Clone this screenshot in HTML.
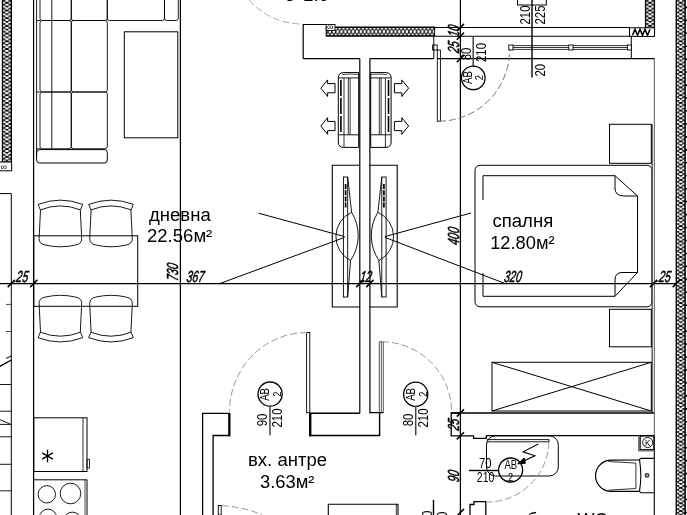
<!DOCTYPE html>
<html><head><meta charset="utf-8"><title>plan</title>
<style>
html,body{margin:0;padding:0;background:#fff;overflow:hidden}
svg{display:block;will-change:transform;transform:translateZ(0)}
text{font-family:"Liberation Sans",sans-serif}
</style></head><body>
<svg width="687" height="515" viewBox="0 0 687 515">
<defs>
<pattern id="insv" width="9.2" height="7.7" patternUnits="userSpaceOnUse">
<rect width="9.2" height="7.7" fill="#fff"/>
<path d="M1,-3.85 L8.2,0 L1,3.85 L8.2,7.7 L1,11.55 M8.2,-3.85 L1,0 L8.2,3.85 L1,7.7 L8.2,11.55" fill="none" stroke="#000" stroke-width="0.95"/>
<rect x="0" y="0" width="0.9" height="7.7" fill="#000"/><rect x="8.3" y="0" width="0.9" height="7.7" fill="#000"/>
</pattern>
<pattern id="ins" width="7.7" height="9.2" patternUnits="userSpaceOnUse">
<rect width="7.7" height="9.2" fill="#fff"/>
<path d="M-3.85,1 L0,8.2 L3.85,1 L7.7,8.2 L11.55,1 M-3.85,8.2 L0,1 L3.85,8.2 L7.7,1 L11.55,8.2" fill="none" stroke="#000" stroke-width="0.95"/>
<rect x="0" y="0" width="7.7" height="0.9" fill="#000"/><rect x="0" y="8.3" width="7.7" height="0.9" fill="#000"/>
</pattern>
</defs>
<rect width="687" height="515" fill="#fff"/>

<g id="insulation">
<g transform="translate(2.3,-3)"><rect x="0" y="0" width="9.2" height="165" fill="url(#insv)" stroke="#000" stroke-width="1"/></g>
<rect x="-1" y="162" width="12.6" height="8.8" rx="0" fill="#fff" stroke="#000" stroke-width="1" />
<text transform="translate(0.5,169.8)" font-size="9" text-anchor="start" fill="#000" font-weight="normal">&#8734;</text>
<g transform="translate(676.1,-3)"><rect x="0" y="0" width="9.2" height="523" fill="url(#insv)" stroke="#000" stroke-width="1"/></g>
<line x1="685.2" y1="7.4" x2="687" y2="7.4" stroke="#000" stroke-width="1.6" />
<line x1="685.2" y1="20.35" x2="687" y2="20.35" stroke="#000" stroke-width="1.6" />
<line x1="685.2" y1="33.3" x2="687" y2="33.3" stroke="#000" stroke-width="1.6" />
<line x1="685.2" y1="46.24999999999999" x2="687" y2="46.24999999999999" stroke="#000" stroke-width="1.6" />
<line x1="685.2" y1="59.199999999999996" x2="687" y2="59.199999999999996" stroke="#000" stroke-width="1.6" />
<line x1="685.2" y1="72.15" x2="687" y2="72.15" stroke="#000" stroke-width="1.6" />
<line x1="685.2" y1="85.1" x2="687" y2="85.1" stroke="#000" stroke-width="1.6" />
<line x1="685.2" y1="98.05" x2="687" y2="98.05" stroke="#000" stroke-width="1.6" />
<line x1="685.2" y1="111.0" x2="687" y2="111.0" stroke="#000" stroke-width="1.6" />
<line x1="685.2" y1="123.95" x2="687" y2="123.95" stroke="#000" stroke-width="1.6" />
<line x1="685.2" y1="136.9" x2="687" y2="136.9" stroke="#000" stroke-width="1.6" />
<line x1="685.2" y1="149.85" x2="687" y2="149.85" stroke="#000" stroke-width="1.6" />
<line x1="685.2" y1="162.79999999999998" x2="687" y2="162.79999999999998" stroke="#000" stroke-width="1.6" />
<line x1="685.2" y1="175.75" x2="687" y2="175.75" stroke="#000" stroke-width="1.6" />
<line x1="685.2" y1="188.7" x2="687" y2="188.7" stroke="#000" stroke-width="1.6" />
<line x1="685.2" y1="201.65" x2="687" y2="201.65" stroke="#000" stroke-width="1.6" />
<line x1="685.2" y1="214.6" x2="687" y2="214.6" stroke="#000" stroke-width="1.6" />
<line x1="685.2" y1="227.54999999999998" x2="687" y2="227.54999999999998" stroke="#000" stroke-width="1.6" />
<line x1="685.2" y1="240.5" x2="687" y2="240.5" stroke="#000" stroke-width="1.6" />
<line x1="685.2" y1="253.45" x2="687" y2="253.45" stroke="#000" stroke-width="1.6" />
<line x1="685.2" y1="266.4" x2="687" y2="266.4" stroke="#000" stroke-width="1.6" />
<line x1="685.2" y1="279.34999999999997" x2="687" y2="279.34999999999997" stroke="#000" stroke-width="1.6" />
<line x1="685.2" y1="292.29999999999995" x2="687" y2="292.29999999999995" stroke="#000" stroke-width="1.6" />
<line x1="685.2" y1="305.24999999999994" x2="687" y2="305.24999999999994" stroke="#000" stroke-width="1.6" />
<line x1="685.2" y1="318.19999999999993" x2="687" y2="318.19999999999993" stroke="#000" stroke-width="1.6" />
<line x1="685.2" y1="331.15" x2="687" y2="331.15" stroke="#000" stroke-width="1.6" />
<line x1="685.2" y1="344.09999999999997" x2="687" y2="344.09999999999997" stroke="#000" stroke-width="1.6" />
<line x1="685.2" y1="357.04999999999995" x2="687" y2="357.04999999999995" stroke="#000" stroke-width="1.6" />
<line x1="685.2" y1="369.99999999999994" x2="687" y2="369.99999999999994" stroke="#000" stroke-width="1.6" />
<line x1="685.2" y1="382.94999999999993" x2="687" y2="382.94999999999993" stroke="#000" stroke-width="1.6" />
<line x1="685.2" y1="395.9" x2="687" y2="395.9" stroke="#000" stroke-width="1.6" />
<line x1="685.2" y1="408.84999999999997" x2="687" y2="408.84999999999997" stroke="#000" stroke-width="1.6" />
<line x1="685.2" y1="421.79999999999995" x2="687" y2="421.79999999999995" stroke="#000" stroke-width="1.6" />
<line x1="685.2" y1="434.74999999999994" x2="687" y2="434.74999999999994" stroke="#000" stroke-width="1.6" />
<line x1="685.2" y1="447.69999999999993" x2="687" y2="447.69999999999993" stroke="#000" stroke-width="1.6" />
<line x1="685.2" y1="460.65" x2="687" y2="460.65" stroke="#000" stroke-width="1.6" />
<line x1="685.2" y1="473.59999999999997" x2="687" y2="473.59999999999997" stroke="#000" stroke-width="1.6" />
<line x1="685.2" y1="486.54999999999995" x2="687" y2="486.54999999999995" stroke="#000" stroke-width="1.6" />
<line x1="685.2" y1="499.49999999999994" x2="687" y2="499.49999999999994" stroke="#000" stroke-width="1.6" />
<line x1="685.2" y1="512.4499999999999" x2="687" y2="512.4499999999999" stroke="#000" stroke-width="1.6" />
<g transform="translate(326.2,27)"><rect x="0" y="0" width="108.40000000000003" height="9.2" fill="url(#ins)" stroke="#000" stroke-width="1"/></g>
<rect x="326.2" y="24.5" width="8.8" height="6.0" rx="0" fill="#fff" stroke="#000" stroke-width="0.9" />
<text transform="translate(327,30.3)" font-size="9" text-anchor="start" fill="#000" font-weight="normal">&#8734;</text>
<g transform="translate(645.4,-3)"><rect x="0" y="0" width="9.2" height="37" fill="url(#insv)" stroke="#000" stroke-width="1"/></g>
<g transform="translate(629.5,27.8)"><rect width="25" height="8.6" fill="#fff" stroke="#000"/><path d="M3,7.5 L5.5,1.5 L8,7.5 L10.5,1.5 L13,7.5 L15.5,1.5 L18,7.5 L20.5,1.5" fill="none" stroke="#000" stroke-width="1.5"/></g>
</g>
<g id="walls">
<line x1="33.6" y1="0" x2="33.6" y2="515" stroke="#000" stroke-width="1.25" />
<line x1="180.4" y1="0" x2="180.4" y2="515" stroke="#000" stroke-width="1.25" />
<line x1="460.4" y1="0" x2="460.4" y2="515" stroke="#000" stroke-width="1.25" />
<line x1="0" y1="283.5" x2="676.1" y2="283.5" stroke="#000" stroke-width="1.25" />
<path d="M303.2,58.7 V24.5 H326.2" fill="none" stroke="#000" stroke-width="1.2" />
<path d="M303.2,58.7 H359.8 M369.8,58.7 H433.8" fill="none" stroke="#000" stroke-width="1.2" />
<line x1="433.8" y1="36.2" x2="433.8" y2="58.7" stroke="#000" stroke-width="1" />
<line x1="359.8" y1="58.7" x2="359.8" y2="413.2" stroke="#000" stroke-width="1.2" />
<line x1="369.9" y1="58.7" x2="369.9" y2="413.2" stroke="#000" stroke-width="1.2" />
<line x1="435" y1="27.5" x2="629.5" y2="27.5" stroke="#000" stroke-width="1.1" />
<line x1="435" y1="36.2" x2="631.3" y2="36.2" stroke="#000" stroke-width="1.1" />
<line x1="437" y1="58.7" x2="654.5" y2="58.7" stroke="#000" stroke-width="1.2" />
<line x1="654.3" y1="58.7" x2="654.3" y2="436" stroke="#444" stroke-width="0.9" />
<line x1="654.3" y1="436" x2="654.3" y2="515" stroke="#000" stroke-width="1.1" />
<line x1="631.3" y1="36.2" x2="631.3" y2="58.7" stroke="#000" stroke-width="1" />
</g>
<g id="sofa">
<line x1="36.6" y1="0" x2="36.6" y2="156" stroke="#000" stroke-width="0.9" />
<rect x="40" y="-52" width="31.3" height="72.5" rx="2.2" fill="none" stroke="#000" stroke-width="0.9" />
<rect x="71.3" y="-52" width="36.0" height="72.5" rx="2.2" fill="none" stroke="#000" stroke-width="0.9" />
<line x1="36.6" y1="20.5" x2="40" y2="20.5" stroke="#000" stroke-width="0.9" />
<rect x="40" y="20.5" width="31.3" height="71.5" rx="2.2" fill="none" stroke="#000" stroke-width="0.9" />
<rect x="71.3" y="20.5" width="36.0" height="71.5" rx="2.2" fill="none" stroke="#000" stroke-width="0.9" />
<line x1="36.6" y1="92" x2="40" y2="92" stroke="#000" stroke-width="0.9" />
<rect x="40" y="92" width="31.3" height="56.8" rx="2.2" fill="none" stroke="#000" stroke-width="0.9" />
<rect x="71.3" y="92" width="36.0" height="56.8" rx="2.2" fill="none" stroke="#000" stroke-width="0.9" />
<line x1="36.6" y1="148.8" x2="40" y2="148.8" stroke="#000" stroke-width="0.9" />
<line x1="51.8" y1="0" x2="51.8" y2="148.8" stroke="#000" stroke-width="0.9" />
<rect x="107.3" y="-30" width="57.2" height="50.5" rx="2.2" fill="none" stroke="#000" stroke-width="0.9" />
<rect x="164.5" y="-30" width="13.8" height="50.5" rx="2.2" fill="none" stroke="#000" stroke-width="0.9" />
<rect x="36.6" y="149.6" width="70.7" height="13.4" rx="3" fill="none" stroke="#000" stroke-width="1" />
</g>
<rect x="124.3" y="31.8" width="53.5" height="106.0" rx="0" fill="none" stroke="#000" stroke-width="1" />
<g id="dining">
<path d="M38.1,204.4 Q60.400000000000006,195.9 82.7,204.4 L80.5,209.9 Q60.400000000000006,201.9 40.300000000000004,209.9 Z M40.5,209.9 L39.1,238.4 Q38.9,243.9 45.1,245.0 Q60.400000000000006,248.60000000000002 75.7,245.0 Q81.9,243.9 81.7,238.4 L80.3,209.9" fill="none" stroke="#000" stroke-width="0.9" />
<path d="M88.7,204.4 Q111.0,195.9 133.3,204.4 L131.10000000000002,209.9 Q111.0,201.9 90.9,209.9 Z M91.10000000000001,209.9 L89.7,238.4 Q89.5,243.9 95.7,245.0 Q111.0,248.60000000000002 126.30000000000001,245.0 Q132.5,243.9 132.3,238.4 L130.9,209.9" fill="none" stroke="#000" stroke-width="0.9" />
<g transform="translate(0,637.0) scale(1,-1)">
<path d="M38.1,299.3 Q60.400000000000006,290.8 82.7,299.3 L80.5,304.8 Q60.400000000000006,296.8 40.300000000000004,304.8 Z M40.5,304.8 L39.1,333.3 Q38.9,338.8 45.1,339.90000000000003 Q60.400000000000006,343.5 75.7,339.90000000000003 Q81.9,338.8 81.7,333.3 L80.3,304.8" fill="none" stroke="#000" stroke-width="0.9" />
</g>
<g transform="translate(0,637.0) scale(1,-1)">
<path d="M88.7,299.3 Q111.0,290.8 133.3,299.3 L131.10000000000002,304.8 Q111.0,296.8 90.9,304.8 Z M91.10000000000001,304.8 L89.7,333.3 Q89.5,338.8 95.7,339.90000000000003 Q111.0,343.5 126.30000000000001,339.90000000000003 Q132.5,338.8 132.3,333.3 L130.9,304.8" fill="none" stroke="#000" stroke-width="0.9" />
</g>
<rect x="33.75" y="235.8" width="103.95" height="70.5" rx="0" fill="none" stroke="#000" stroke-width="1" />
</g>
<g id="kitchen">
<rect x="33.75" y="417.8" width="53.25" height="53.7" rx="0" fill="none" stroke="#000" stroke-width="1" />
<line x1="83" y1="417.8" x2="83" y2="471.5" stroke="#000" stroke-width="0.8" />
<rect x="87" y="459.3" width="2.5" height="8.7" rx="0" fill="none" stroke="#000" stroke-width="0.8" />
<path d="M47.5,449.8 V462.2 M42.1,452.9 L52.9,459.1 M52.9,452.9 L42.1,459.1" fill="none" stroke="#000" stroke-width="1.3" />
<path d="M33.75,479.8 H87 V515" fill="none" stroke="#000" stroke-width="1" />
<line x1="85" y1="479.8" x2="85" y2="515" stroke="#000" stroke-width="0.7" />
<circle cx="46.8" cy="494.3" r="8.7" fill="none" stroke="#000" stroke-width="0.9"/>
<circle cx="70.5" cy="493.5" r="10.3" fill="none" stroke="#000" stroke-width="0.9"/>
<circle cx="48" cy="517.8" r="8.7" fill="none" stroke="#000" stroke-width="0.9"/>
<circle cx="72.4" cy="520.6" r="8.5" fill="none" stroke="#000" stroke-width="0.9"/>
</g>
<g id="stairs">
<path d="M-1,193.6 H11.3 V515" fill="none" stroke="#000" stroke-width="1" />
<line x1="6" y1="304.4" x2="11.3" y2="304.4" stroke="#333" stroke-width="0.9" />
<line x1="6" y1="331.5" x2="11.3" y2="331.5" stroke="#333" stroke-width="0.9" />
<line x1="0" y1="366.3" x2="11.3" y2="360" stroke="#000" stroke-width="1.4" />
<line x1="6" y1="358.4" x2="11.3" y2="356" stroke="#000" stroke-width="1" />
<line x1="0" y1="384.5" x2="11.3" y2="384.5" stroke="#000" stroke-width="0.9" />
<line x1="0" y1="411.2" x2="11.3" y2="411.2" stroke="#000" stroke-width="0.9" />
<line x1="0" y1="436.8" x2="11.3" y2="436.8" stroke="#000" stroke-width="0.9" />
<line x1="0" y1="464.3" x2="11.3" y2="464.3" stroke="#000" stroke-width="0.9" />
<line x1="0" y1="490.8" x2="11.3" y2="490.8" stroke="#000" stroke-width="0.9" />
<path d="M0,419.7 L10.5,424.2 M0,424.4 H11.3" fill="none" stroke="#000" stroke-width="0.9" />
</g>
<g id="ac">
<g>
<path d="M358.7,72.6 H343.3 Q338.3,72.8 338.3,78 V142 Q338.3,147.2 343.3,147.4 H358.7 Z" fill="none" stroke="#000" stroke-width="1" />
<path d="M338.6,77.9 H358.7 M338.6,134.8 H358.7" fill="none" stroke="#000" stroke-width="0.9" />
<path d="M344.0,77.9 V147.2 M348.3,77.9 V134.8 M350.1,77.9 V134.8" fill="none" stroke="#000" stroke-width="0.8" />
<path d="M342.3,74.6 Q348.3,73.6 358.7,74.4" fill="none" stroke="#000" stroke-width="0.7" />
<line x1="340.90000000000003" y1="80" x2="340.90000000000003" y2="133" stroke="#000" stroke-width="1.6" stroke-dasharray="16 2"/>
</g>
<g transform="translate(729.4,0) scale(-1,1)">
<path d="M358.7,72.6 H343.3 Q338.3,72.8 338.3,78 V142 Q338.3,147.2 343.3,147.4 H358.7 Z" fill="none" stroke="#000" stroke-width="1" />
<path d="M338.6,77.9 H358.7 M338.6,134.8 H358.7" fill="none" stroke="#000" stroke-width="0.9" />
<path d="M344.0,77.9 V147.2 M348.3,77.9 V134.8 M350.1,77.9 V134.8" fill="none" stroke="#000" stroke-width="0.8" />
<path d="M342.3,74.6 Q348.3,73.6 358.7,74.4" fill="none" stroke="#000" stroke-width="0.7" />
<line x1="340.90000000000003" y1="80" x2="340.90000000000003" y2="133" stroke="#000" stroke-width="1.6" stroke-dasharray="16 2"/>
</g>
<path d="M320.8,88.2 L327.6,79.9 V83.60000000000001 H335.0 V92.8 H327.6 V96.5 Z" fill="#fff" stroke="#000" stroke-width="1" />
<path d="M320.8,126 L327.6,117.7 V121.4 H335.0 V130.6 H327.6 V134.3 Z" fill="#fff" stroke="#000" stroke-width="1" />
<path d="M408.6,88.2 L401.8,79.9 V83.60000000000001 H394.40000000000003 V92.8 H401.8 V96.5 Z" fill="#fff" stroke="#000" stroke-width="1" />
<path d="M408.6,126 L401.8,117.7 V121.4 H394.40000000000003 V130.6 H401.8 V134.3 Z" fill="#fff" stroke="#000" stroke-width="1" />
</g>
<g id="tv">
<g>
<path d="M360,165.2 H332.3 V307 H360" fill="none" stroke="#000" stroke-width="1.1" />
<rect x="343.4" y="177" width="4.3" height="120" rx="0" fill="none" stroke="#000" stroke-width="0.9" />
<line x1="345.6" y1="184" x2="345.6" y2="208" stroke="#000" stroke-width="1.7" stroke-dasharray="5 1.2"/>
<path d="M347.7,177 L351.6,212.3 M350.6,260.5 L347.7,297" fill="none" stroke="#000" stroke-width="0.9" />
<path d="M351.6,212.3 A26.7,26.7 0 0 0 350.6,260.5" fill="none" stroke="#000" stroke-width="0.9" />
<path d="M351.6,212.3 A44.6,44.6 0 0 1 350.6,260.5" fill="none" stroke="#000" stroke-width="0.9" />
</g>
<g transform="translate(729.5,0) scale(-1,1)">
<path d="M360,165.2 H332.3 V307 H360" fill="none" stroke="#000" stroke-width="1.1" />
<rect x="343.4" y="177" width="4.3" height="120" rx="0" fill="none" stroke="#000" stroke-width="0.9" />
<line x1="345.6" y1="184" x2="345.6" y2="208" stroke="#000" stroke-width="1.7" stroke-dasharray="5 1.2"/>
<path d="M347.7,177 L351.6,212.3 M350.6,260.5 L347.7,297" fill="none" stroke="#000" stroke-width="0.9" />
<path d="M351.6,212.3 A26.7,26.7 0 0 0 350.6,260.5" fill="none" stroke="#000" stroke-width="0.9" />
<path d="M351.6,212.3 A44.6,44.6 0 0 1 350.6,260.5" fill="none" stroke="#000" stroke-width="0.9" />
</g>
<path d="M344.6,236.6 L258.5,213.2 M344.6,237.4 L220,283.5" fill="none" stroke="#000" stroke-width="1" />
<path d="M385,236.6 L471,213 M385,237.4 L505,283.5" fill="none" stroke="#000" stroke-width="1" />
</g>
<g id="bed">
<rect x="475" y="165.3" width="177" height="141.5" rx="5" fill="none" stroke="#000" stroke-width="1" />
<path d="M483,200 V175.7 H615 L637.5,196 V272.5 L615,296.3 H483 V273" fill="none" stroke="#000" stroke-width="1" />
<path d="M615,175.7 V188 Q615,196 624,196 H637.5" fill="none" stroke="#000" stroke-width="1" />
<path d="M637.5,272.5 H622 Q615,272.5 615,280 V296.3" fill="none" stroke="#000" stroke-width="1" />
<rect x="609.5" y="124.3" width="41.8" height="39.0" rx="0" fill="none" stroke="#000" stroke-width="1" />
<rect x="609.5" y="309.3" width="41.8" height="37.5" rx="0" fill="none" stroke="#000" stroke-width="1" />
<rect x="652.1" y="124.3" width="1.7" height="288.7" rx="0" fill="#e4e4e4" stroke="none" stroke-width="0" />
<line x1="652.1" y1="124.3" x2="652.1" y2="413" stroke="#000" stroke-width="0.9" />
<rect x="492" y="362.3" width="159.3" height="48.7" rx="0" fill="none" stroke="#000" stroke-width="1" />
<path d="M492,362.3 L651.3,411 M651.3,362.3 L492,411" fill="none" stroke="#000" stroke-width="1" />
</g>
<g id="bdoor">
<rect x="432.6" y="45" width="4.6" height="5" rx="0" fill="none" stroke="#000" stroke-width="0.9" />
<rect x="437.3" y="50" width="3.1" height="71.2" rx="0" fill="none" stroke="#000" stroke-width="0.9" />
<path d="M439,121.2 A71,71 0 0 0 509.5,50" fill="none" stroke="#777" stroke-width="1" stroke-dasharray="7 3"/>
<rect x="508.8" y="45" width="4.2" height="5" rx="0" fill="none" stroke="#000" stroke-width="0.9" />
<path d="M513,45.6 H627.5 M513,49.4 H627.5 M513,47.5 H627.5" fill="none" stroke="#000" stroke-width="0.8" />
<rect x="568.8" y="45" width="4.2" height="5" rx="0" fill="#fff" stroke="#000" stroke-width="0.9" />
<rect x="627.5" y="45" width="3.8" height="5" rx="0" fill="#fff" stroke="#000" stroke-width="0.9" />
<line x1="532" y1="0" x2="532" y2="77.5" stroke="#000" stroke-width="1.4" />
<rect x="517.5" y="-3" width="28.8" height="8" rx="0" fill="none" stroke="#000" stroke-width="1" />
<line x1="473.2" y1="36.2" x2="473.2" y2="66.2" stroke="#444" stroke-width="1.5" />
<circle cx="473.3" cy="77.9" r="11.8" fill="none" stroke="#000" stroke-width="1.3"/>
</g>
<path d="M249,0 A70.5,70.5 0 0 0 302,24" fill="none" stroke="#aaa" stroke-width="1" stroke-dasharray="7 3"/>
<g id="hall">
<path d="M202.6,515 V413.3 H229.5 V435.5 H213.1 V515" fill="none" stroke="#000" stroke-width="1.3" />
<line x1="229.3" y1="413.3" x2="229.3" y2="436.3" stroke="#000" stroke-width="2.2" />
<rect x="306.6" y="332.5" width="3.2" height="80.3" rx="0" fill="none" stroke="#000" stroke-width="0.9" />
<path d="M307,332.5 A77.5,79.5 0 0 0 229.5,412" fill="none" stroke="#999" stroke-width="1" stroke-dasharray="7 3"/>
<path d="M359.8,413.2 H309.8 V435.5 H379.6 V412.6 M369.9,412.6 H383.5" fill="none" stroke="#000" stroke-width="1.4" />
<line x1="310.3" y1="413.2" x2="310.3" y2="436.3" stroke="#000" stroke-width="2.2" />
<path d="M379.3,412.5 V341.8 H383.3 V412.5 M381.3,341.8 V412.5" fill="none" stroke="#444" stroke-width="0.9" />
<path d="M382,341.8 A70,70 0 0 1 451.5,412" fill="none" stroke="#999" stroke-width="1" stroke-dasharray="7 3"/>
<circle cx="270.1" cy="394.1" r="12.1" fill="none" stroke="#000" stroke-width="1.3"/>
<line x1="270" y1="406" x2="270" y2="435.3" stroke="#444" stroke-width="1.5" />
<circle cx="415.7" cy="394.2" r="12.1" fill="none" stroke="#000" stroke-width="1.3"/>
<line x1="415.7" y1="406" x2="415.7" y2="435.3" stroke="#444" stroke-width="1.5" />
<rect x="218.3" y="505.5" width="2.9" height="9.5" rx="0" fill="none" stroke="#000" stroke-width="0.9" />
<path d="M221.5,505.7 Q245,507 262,515" fill="none" stroke="#999" stroke-width="1" stroke-dasharray="7 3"/>
<path d="M328.3,515 V504.2 H398 V515" fill="none" stroke="#000" stroke-width="1.1" />
<line x1="396.3" y1="504.2" x2="396.3" y2="515" stroke="#000" stroke-width="0.8" />
<line x1="433.5" y1="499.8" x2="433.5" y2="515" stroke="#000" stroke-width="1.4" />
</g>
<g id="bath">
<path d="M460.4,413 H451.2 V435.8 H473.6 V438.4 H486.3 V435.6" fill="none" stroke="#000" stroke-width="1.3" />
<line x1="451.2" y1="413" x2="654" y2="413" stroke="#000" stroke-width="1.4" />
<line x1="486.3" y1="435.6" x2="654" y2="435.6" stroke="#000" stroke-width="1.4" />
<rect x="486.5" y="435.8" width="71.8" height="40.2" rx="9" fill="none" stroke="#000" stroke-width="1" />
<path d="M486.8,439.6 H549 V441.8 H486.8" fill="none" stroke="#000" stroke-width="0.9" />
<path d="M549,442 A62,62 0 0 1 487,502" fill="none" stroke="#999" stroke-width="1" stroke-dasharray="7 3"/>
<circle cx="510.6" cy="470" r="12" fill="none" stroke="#000" stroke-width="1.3"/>
<line x1="469" y1="470.5" x2="498.8" y2="470.5" stroke="#000" stroke-width="1.4" />
<path d="M538.3,444 L523,451.8 L535,455.8 L521,462.2" fill="none" stroke="#000" stroke-width="1.1" />
<path d="M517.6,463.8 L524.3,458 L525.3,463.3 Z" fill="#000" stroke="#000" stroke-width="1" />
<path d="M470,515 V504.5 H474 V501.6 H485.8 V515" fill="none" stroke="#000" stroke-width="1.3" />
<path d="M639,435.6 V450.6 H654" fill="none" stroke="#777" stroke-width="2" />
<rect x="640.3" y="436" width="13.5" height="13.4" rx="0" fill="none" stroke="#000" stroke-width="0.9" />
<circle cx="647.7" cy="442.5" r="5" fill="none" stroke="#000" stroke-width="0.9"/>
<path d="M653.8,458.4 H641.5 Q639.5,458.4 639.6,460.4 Q642,475.5 639.6,490.7 Q639.5,492.7 641.5,492.7 H653.8" fill="none" stroke="#000" stroke-width="1.1" />
<path d="M639.6,460 L610,460.1 A15.7,15.7 0 0 0 610,491.4 L639.6,491.4" fill="none" stroke="#000" stroke-width="1.2" />
<path d="M608.5,461.5 L635.9,463.1 V488.5 L608.5,490.2" fill="none" stroke="#333" stroke-width="1" />
<circle cx="647" cy="475.4" r="1.9" fill="#999" stroke="#222" stroke-width="1.1"/>
</g>
<g id="ticks">
<line x1="7.700000000000001" y1="287.1" x2="14.9" y2="279.9" stroke="#000" stroke-width="1.5" />
<line x1="30.15" y1="287.1" x2="37.35" y2="279.9" stroke="#000" stroke-width="1.5" />
<line x1="356.2" y1="287.1" x2="363.40000000000003" y2="279.9" stroke="#000" stroke-width="1.5" />
<line x1="366.29999999999995" y1="287.1" x2="373.5" y2="279.9" stroke="#000" stroke-width="1.5" />
<line x1="649.9" y1="287.1" x2="657.1" y2="279.9" stroke="#000" stroke-width="1.5" />
<line x1="672.6999999999999" y1="287.1" x2="679.9" y2="279.9" stroke="#000" stroke-width="1.5" />
<line x1="456.79999999999995" y1="31.1" x2="464.0" y2="23.9" stroke="#000" stroke-width="1.5" />
<line x1="456.79999999999995" y1="39.800000000000004" x2="464.0" y2="32.6" stroke="#000" stroke-width="1.5" />
<line x1="456.79999999999995" y1="62.300000000000004" x2="464.0" y2="55.1" stroke="#000" stroke-width="1.5" />
<line x1="456.79999999999995" y1="416.6" x2="464.0" y2="409.4" stroke="#000" stroke-width="1.5" />
<line x1="456.79999999999995" y1="439.40000000000003" x2="464.0" y2="432.2" stroke="#000" stroke-width="1.5" />
<line x1="456.79999999999995" y1="516.1" x2="464.0" y2="508.9" stroke="#000" stroke-width="1.5" />
</g>
<g id="labels">
<text transform="translate(149,221) scale(1.03,1)" font-size="18" text-anchor="start" fill="#000" font-weight="normal">дневна</text>
<text transform="translate(147,242.4) scale(1.03,1)" font-size="18" text-anchor="start" fill="#000" font-weight="normal">22.56м²</text>
<text transform="translate(492.5,226.5) scale(1.03,1)" font-size="18" text-anchor="start" fill="#000" font-weight="normal">спалня</text>
<text transform="translate(490.2,248.6) scale(1.015,1)" font-size="18" text-anchor="start" fill="#000" font-weight="normal">12.80м²</text>
<text transform="translate(248,465.5) scale(1.03,1)" font-size="18" text-anchor="start" fill="#000" font-weight="normal">вх. антре</text>
<text transform="translate(260,487.8) scale(1.02,1)" font-size="18" text-anchor="start" fill="#000" font-weight="normal">3.63м²</text>
<text transform="translate(285,0.7)" font-size="18" text-anchor="start" fill="#000" font-weight="normal">3</text>
<text transform="translate(303.6,0.7)" font-size="18" text-anchor="start" fill="#000" font-weight="normal">2.6</text>
<text transform="translate(527,525.6)" font-size="18" text-anchor="start" fill="#000" font-weight="normal">баня</text>
<text transform="translate(577.5,525.6)" font-size="18" text-anchor="start" fill="#000" font-weight="normal">WC</text>
</g>
<g id="dimtext">
<text transform="translate(12.9,282.3) skewX(-9) scale(0.655,1)" font-size="16" text-anchor="start" fill="#000" font-weight="normal" font-style="italic" stroke="#000" stroke-width="0.5">.25</text>
<text transform="translate(186,282.3) skewX(-9) scale(0.655,1)" font-size="16" text-anchor="start" fill="#000" font-weight="normal" font-style="italic" stroke="#000" stroke-width="0.5">367</text>
<text transform="translate(359.5,282.3) skewX(-9) scale(0.655,1)" font-size="16" text-anchor="start" fill="#000" font-weight="normal" font-style="italic" stroke="#000" stroke-width="0.5">12</text>
<text transform="translate(503.5,282.3) skewX(-9) scale(0.655,1)" font-size="16" text-anchor="start" fill="#000" font-weight="normal" font-style="italic" stroke="#000" stroke-width="0.5">320</text>
<text transform="translate(655.5,282.3) skewX(-9) scale(0.655,1)" font-size="16" text-anchor="start" fill="#000" font-weight="normal" font-style="italic" stroke="#000" stroke-width="0.5">.25</text>
<text transform="translate(178.3,281.3) rotate(-90) skewX(-9) scale(0.655,1)" font-size="16" text-anchor="start" fill="#000" font-weight="normal" font-style="italic" stroke="#000" stroke-width="0.5">730</text>
<text transform="translate(458.8,245.5) rotate(-90) skewX(-9) scale(0.655,1)" font-size="16" text-anchor="start" fill="#000" font-weight="normal" font-style="italic" stroke="#000" stroke-width="0.5">400</text>
<text transform="translate(459.3,37.3) rotate(-90) skewX(-9) scale(0.655,1)" font-size="16" text-anchor="start" fill="#000" font-weight="normal" font-style="italic" stroke="#000" stroke-width="0.5">10</text>
<text transform="translate(459,53.5) rotate(-90) skewX(-9) scale(0.655,1)" font-size="16" text-anchor="start" fill="#000" font-weight="normal" font-style="italic" stroke="#000" stroke-width="0.5">25</text>
<text transform="translate(458.8,431) rotate(-90) skewX(-9) scale(0.655,1)" font-size="16" text-anchor="start" fill="#000" font-weight="normal" font-style="italic" stroke="#000" stroke-width="0.5">25</text>
<text transform="translate(458.8,482.5) rotate(-90) skewX(-9) scale(0.655,1)" font-size="16" text-anchor="start" fill="#000" font-weight="normal" font-style="italic" stroke="#000" stroke-width="0.5">90</text>
</g>
<g id="tagtext">
<text transform="translate(471,60.3) rotate(-90) scale(0.76,1)" font-size="15" text-anchor="start" fill="#000" font-weight="normal">80</text>
<text transform="translate(486.2,62) rotate(-90) scale(0.76,1)" font-size="15" text-anchor="start" fill="#000" font-weight="normal">210</text>
<text transform="translate(472.3,84) rotate(-90) scale(0.8,1)" font-size="12" text-anchor="start" fill="#000" font-weight="normal">AB</text>
<text transform="translate(483.4,80.2) rotate(-90) scale(0.8,1)" font-size="11.6" text-anchor="start" fill="#000" font-weight="normal">2</text>
<text transform="translate(530,24.5) rotate(-90) scale(0.76,1)" font-size="15" text-anchor="start" fill="#000" font-weight="normal">210</text>
<text transform="translate(545.3,24.5) rotate(-90) scale(0.76,1)" font-size="15" text-anchor="start" fill="#000" font-weight="normal">225</text>
<text transform="translate(545.3,76.5) rotate(-90) scale(0.76,1)" font-size="15" text-anchor="start" fill="#000" font-weight="normal">20</text>
<text transform="translate(266.5,426.3) rotate(-90) scale(0.76,1)" font-size="15" text-anchor="start" fill="#000" font-weight="normal">90</text>
<text transform="translate(282,427.5) rotate(-90) scale(0.76,1)" font-size="15" text-anchor="start" fill="#000" font-weight="normal">210</text>
<text transform="translate(269.2,400.8) rotate(-90) scale(0.8,1)" font-size="12" text-anchor="start" fill="#000" font-weight="normal">AB</text>
<text transform="translate(280.5,396.8) rotate(-90) scale(0.8,1)" font-size="11.6" text-anchor="start" fill="#000" font-weight="normal">2</text>
<text transform="translate(412.7,426.3) rotate(-90) scale(0.76,1)" font-size="15" text-anchor="start" fill="#000" font-weight="normal">80</text>
<text transform="translate(427.7,427.5) rotate(-90) scale(0.76,1)" font-size="15" text-anchor="start" fill="#000" font-weight="normal">210</text>
<text transform="translate(415.4,400.8) rotate(-90) scale(0.8,1)" font-size="12" text-anchor="start" fill="#000" font-weight="normal">AB</text>
<text transform="translate(426.7,396.8) rotate(-90) scale(0.8,1)" font-size="11.6" text-anchor="start" fill="#000" font-weight="normal">2</text>
<text transform="translate(431.5,517) rotate(-90) scale(0.76,1)" font-size="15" text-anchor="start" fill="#000" font-weight="normal">0</text>
<text transform="translate(446.5,518) rotate(-90) scale(0.76,1)" font-size="15" text-anchor="start" fill="#000" font-weight="normal">0</text>
<text transform="translate(479,468.3) scale(0.8,1)" font-size="14" text-anchor="start" fill="#000" font-weight="normal">70</text>
<text transform="translate(476.8,482.4) scale(0.75,1)" font-size="14" text-anchor="start" fill="#000" font-weight="normal">210</text>
<text transform="translate(504.4,468.9) scale(0.8,1)" font-size="12" text-anchor="start" fill="#000" font-weight="normal">AB</text>
<text transform="translate(508,481) scale(0.8,1)" font-size="11.6" text-anchor="start" fill="#000" font-weight="normal">2</text>
<text transform="translate(644.9,445.9) scale(0.85,1)" font-size="9.5" text-anchor="start" fill="#000" font-weight="normal">K</text>
</g>
</svg></body></html>
